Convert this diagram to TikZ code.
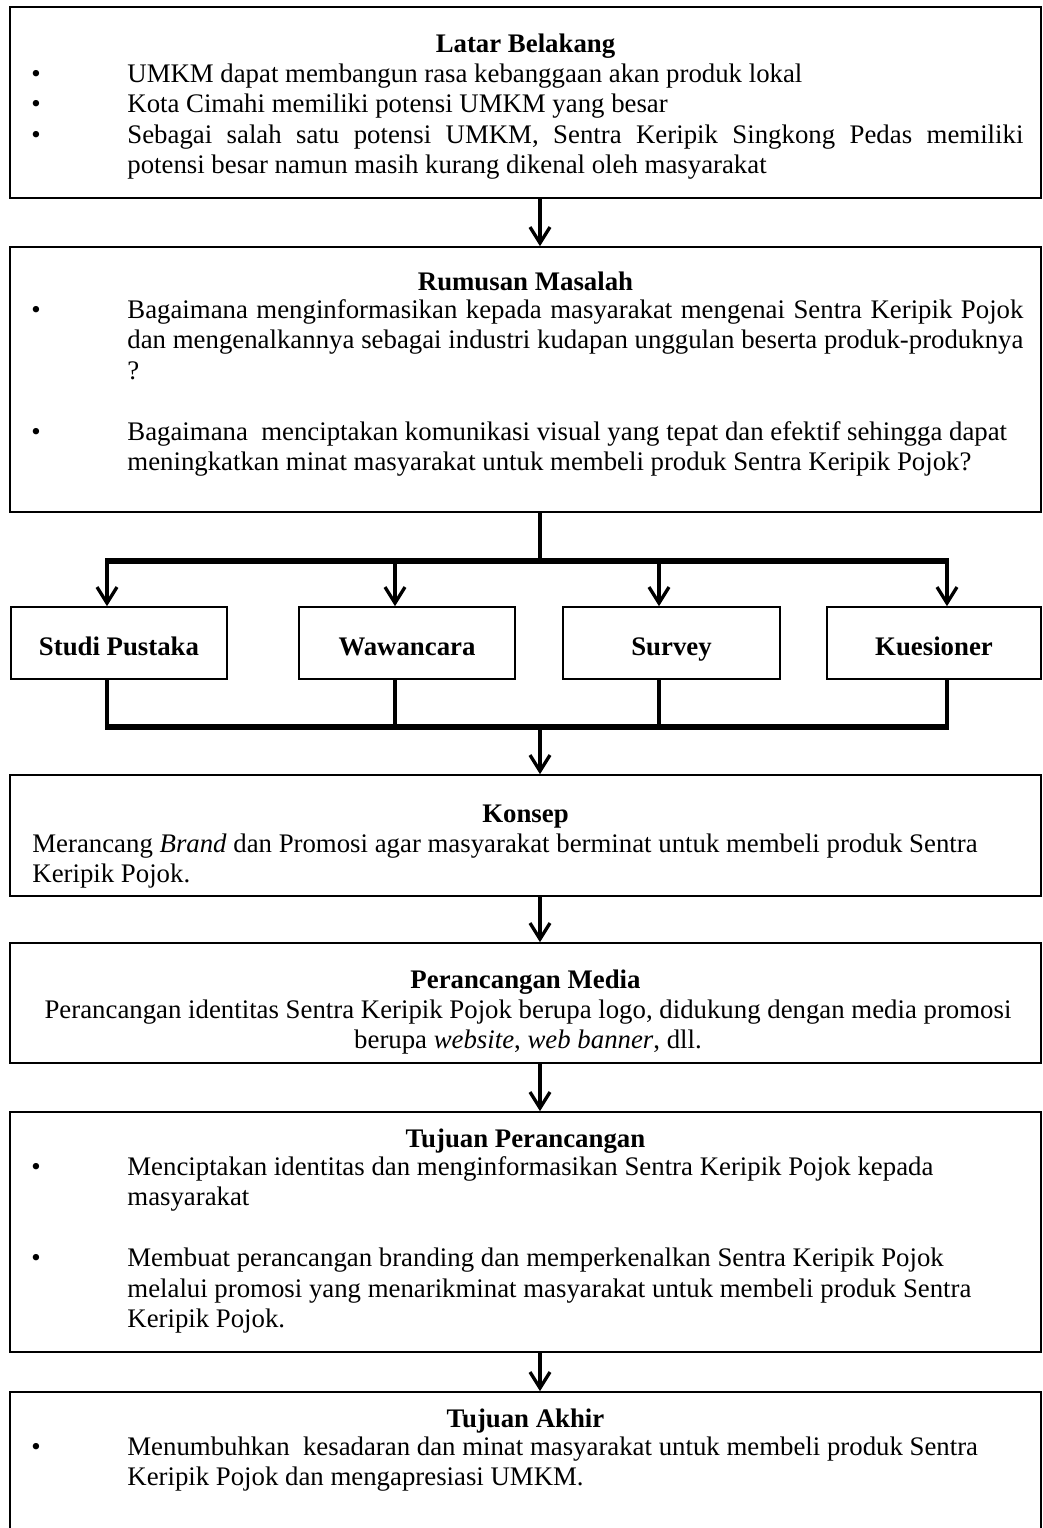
\documentclass[tikz,border=0pt]{standalone}
\usepackage{fontspec}
\setmainfont{Liberation Serif}
\usetikzlibrary{arrows.meta}

\newcommand{\bodyfont}{\fontsize{13.4pt}{15.25pt}\selectfont}
\newcommand{\bitem}[1]{\par\noindent\hangindent=48pt\hangafter=1\makebox[48pt][l]{\textbullet}#1\par}
\newcommand{\gapline}{\vskip\baselineskip}

\begin{document}
\begin{tikzpicture}[x=0.5pt, y=-0.5pt]
 \tikzstyle{box}=[rectangle, draw, line width=0.85pt, inner sep=0pt, minimum width=515.5pt]
 \tikzstyle{col}=[rectangle, draw, line width=0.85pt, inner sep=0pt, minimum height=36pt, text height=15pt, text depth=3pt, font=\bodyfont\bfseries]
 \tikzstyle{head}=[inner sep=0pt, anchor=base, font=\bodyfont\bfseries]
 \tikzstyle{body}=[inner sep=0pt, anchor=base west, font=\bodyfont]
 \tikzstyle{conn}=[draw, line width=1.65pt]
 \tikzstyle{line}=[draw, line width=1.65pt, -{Straight Barb[length=8pt, width=10pt]}]
 \tikzstyle{bar}=[draw, line width=2.6pt, shorten <=-0.8pt, shorten >=-0.8pt]

 \useasboundingbox (0,0) rectangle (1043,1528);
 \clip (0,0) rectangle (1043,1528);

 % boxes
 \node[box, minimum height=95.5pt] (latar) at (525.5,102.5) {};
 \node[box, minimum height=132.5pt] (rumusan) at (525.5,379.5) {};
 \node[col, minimum width=108pt] (studi) at (119,643) {Studi Pustaka};
 \node[col, minimum width=108pt] (wawancara) at (407,643) {Wawancara};
 \node[col, minimum width=108.5pt] (survey) at (671.5,643) {Survey};
 \node[col, minimum width=107pt] (kuesioner) at (934,643) {Kuesioner};
 \node[box, minimum height=60.5pt] (konsep) at (525.5,835.5) {};
 \node[box, minimum height=60pt] (media) at (525.5,1003) {};
 \node[box, minimum height=120pt] (tujuan) at (525.5,1232) {};
 \node[box, minimum height=84pt] (akhir) at (525.5,1476) {};

 % texts
 \node[head] (latarT) at (525.5,52) {Latar Belakang};
 \node[body] (latarB) at (31,82) {\parbox[t]{496pt}{%
  \bitem{UMKM dapat membangun rasa kebanggaan akan produk lokal}%
  \bitem{Kota Cimahi memiliki potensi UMKM yang besar}%
  \bitem{Sebagai salah satu potensi UMKM, Sentra Keripik Singkong Pedas memiliki\linebreak potensi besar namun masih kurang dikenal oleh masyarakat}}};

 \node[head] (rumusanT) at (525.5,290) {Rumusan Masalah};
 \node[body] (rumusanB) at (31,318) {\parbox[t]{496pt}{%
  \bitem{Bagaimana menginformasikan kepada masyarakat mengenai Sentra Keripik Pojok\linebreak dan mengenalkannya sebagai industri kudapan unggulan beserta produk-produknya\linebreak ?}%
  \gapline
  \bitem{Bagaimana\ \ menciptakan komunikasi visual yang tepat dan efektif sehingga dapat\\ meningkatkan minat masyarakat untuk membeli produk Sentra Keripik Pojok?}}};

 \node[head] (konsepT) at (525.5,822) {Konsep};
 \node[body] (konsepB) at (32,852) {\parbox[t]{500pt}{\raggedright
  Merancang \textit{Brand} dan Promosi agar masyarakat berminat untuk membeli produk Sentra\\ Keripik Pojok.}};

 \node[head] (mediaT) at (525.5,988) {Perancangan Media};
 \node[body, anchor=base] (mediaB) at (528,1018) {\parbox[t]{500pt}{\centering
  Perancangan identitas Sentra Keripik Pojok berupa logo, didukung dengan media promosi\\ berupa \textit{website}, \textit{web banner}, dll.}};

 \node[head] (tujuanT) at (525.5,1147) {Tujuan Perancangan};
 \node[body] (tujuanB) at (31,1175) {\parbox[t]{496pt}{%
  \bitem{Menciptakan identitas dan menginformasikan Sentra Keripik Pojok kepada\\ masyarakat}%
  \gapline
  \bitem{Membuat perancangan branding dan memperkenalkan Sentra Keripik Pojok\\ melalui promosi yang menarikminat masyarakat untuk membeli produk Sentra\\ Keripik Pojok.}}};

 \node[head] (akhirT) at (525.5,1427) {Tujuan Akhir};
 \node[body] (akhirB) at (31,1455) {\parbox[t]{496pt}{%
  \bitem{Menumbuhkan\ \ kesadaran dan minat masyarakat untuk membeli produk Sentra\\ Keripik Pojok dan mengapresiasi UMKM.}}};

 % connectors
 \coordinate (fork) at (540,561);
 \coordinate (join) at (540,727);
 \coordinate (t1) at (107,561);
 \coordinate (t2) at (395,561);
 \coordinate (t3) at (659,561);
 \coordinate (t4) at (947,561);
 \coordinate (b1) at (107,727);
 \coordinate (b2) at (395,727);
 \coordinate (b3) at (659,727);
 \coordinate (b4) at (947,727);

 \path [line] (latar.south -| fork) -- (rumusan.north -| fork);
 \path [conn] (rumusan.south -| fork) -- (fork);
 \path [bar] (t1) -- (t4);
 \path [line] (t1) -- (studi.north -| t1);
 \path [line] (t2) -- (wawancara.north -| t2);
 \path [line] (t3) -- (survey.north -| t3);
 \path [line] (t4) -- (kuesioner.north -| t4);
 \path [conn] (studi.south -| b1) -- (b1);
 \path [conn] (wawancara.south -| b2) -- (b2);
 \path [conn] (survey.south -| b3) -- (b3);
 \path [conn] (kuesioner.south -| b4) -- (b4);
 \path [bar] (b1) -- (b4);
 \path [line] (join) -- (konsep.north -| join);
 \path [line] (konsep.south -| join) -- (media.north -| join);
 \path [line] (media.south -| join) -- (tujuan.north -| join);
 \path [line] (tujuan.south -| join) -- (akhir.north -| join);

\end{tikzpicture}
\end{document}
